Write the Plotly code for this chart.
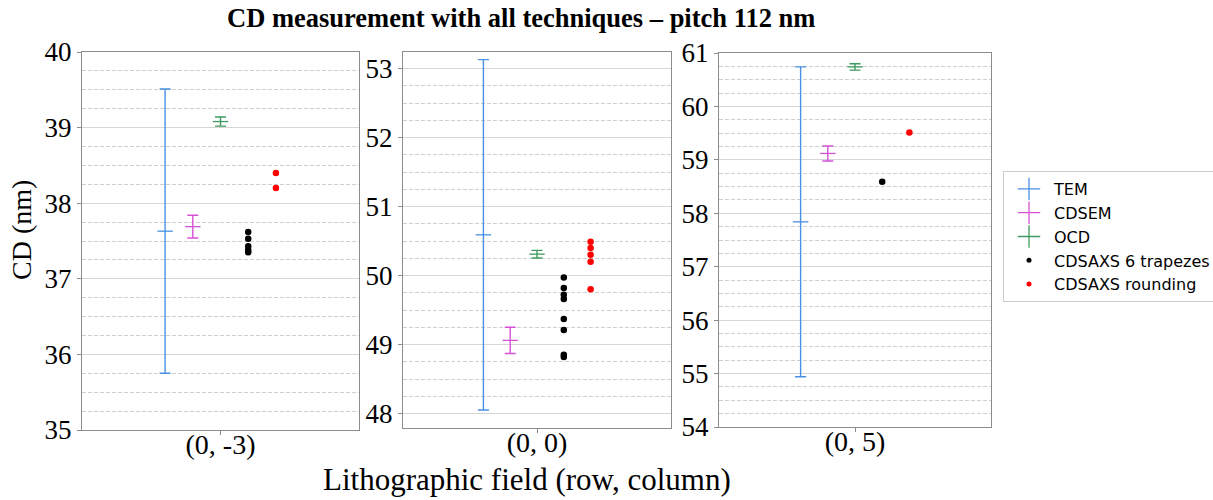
import plotly.graph_objects as go

# ---------------- data ----------------
categories = ["(0, -3)", "(0, 0)", "(0, 5)"]

tem_cd = [37.63, 50.59, 57.84]
tem_err = [1.88, 2.54, 2.90]

cdsem_cd = [37.69, 49.06, 59.12]
cdsem_err = [0.15, 0.19, 0.14]

ocd_cd = [39.08, 50.31, 60.74]
ocd_err = [0.06, 0.055, 0.06]

saxs_trap = [
    [37.62, 37.53, 37.43, 37.38, 37.35],
    [49.97, 49.82, 49.72, 49.66, 49.37, 49.21, 48.85, 48.82],
    [58.59],
]
saxs_round = [
    [38.40, 38.20],
    [50.49, 50.40, 50.30, 50.20, 49.80],
    [59.51],
]

y_ranges = [[35, 40], [47.79, 53.24], [54, 61]]

# ---------------- styling / layout ----------------
W, H = 1213, 500
COL_TEM = "#4a90e2"
COL_SEM = "#d552d5"
COL_OCD = "#3f9c5f"
offsets = [-0.4, -0.2, 0.0, 0.2, 0.4]

# panel pixel boxes (left, right, top, bottom)
boxes = [(82, 359, 52, 430), (403, 671, 52, 428), (719, 991, 53, 427)]

SERIF = "Liberation Serif, Times New Roman, serif"
SANS = "DejaVu Sans, sans-serif"

fig = go.Figure()


def ax_names(i):
    return ("x" if i == 0 else f"x{i+1}", "y" if i == 0 else f"y{i+1}")


for i, cat in enumerate(categories):
    xa, ya = ax_names(i)
    for k, (vals, errs, col) in enumerate([
        (tem_cd, tem_err, COL_TEM),
        (cdsem_cd, cdsem_err, COL_SEM),
        (ocd_cd, ocd_err, COL_OCD),
    ]):
        fig.add_trace(go.Scatter(
            x=[offsets[k]], y=[vals[i]], xaxis=xa, yaxis=ya,
            mode="markers",
            marker=dict(symbol="line-ew-open", size=11, color=col,
                        line=dict(color=col, width=1.3)),
            error_y=dict(type="data", array=[errs[i]], color=col,
                         thickness=1.4, width=5.5),
            showlegend=False, hoverinfo="y",
        ))
    fig.add_trace(go.Scatter(
        x=[offsets[3]] * len(saxs_trap[i]), y=saxs_trap[i], xaxis=xa, yaxis=ya,
        mode="markers", marker=dict(color="black", size=6.5),
        showlegend=False,
    ))
    fig.add_trace(go.Scatter(
        x=[offsets[4]] * len(saxs_round[i]), y=saxs_round[i], xaxis=xa, yaxis=ya,
        mode="markers", marker=dict(color="red", size=6.5),
        showlegend=False,
    ))

# legend-only entries
legend_items = [
    ("TEM", COL_TEM, "cross-thin-open", 18),
    ("CDSEM", COL_SEM, "cross-thin-open", 18),
    ("OCD", COL_OCD, "cross-thin-open", 18),
    ("CDSAXS 6 trapezes", "black", "circle", 5),
    ("CDSAXS rounding", "red", "circle", 5),
]
for name, col, sym, sz in legend_items:
    mk = dict(symbol=sym, color=col, size=sz)
    if sym != "circle":
        mk["line"] = dict(color=col, width=1.3)
    fig.add_trace(go.Scatter(x=[None], y=[None], mode="markers", name=name,
                             marker=mk, showlegend=True))

layout = dict(
    width=W, height=H, autosize=False,
    margin=dict(l=0, r=0, t=0, b=0, pad=0, autoexpand=False),
    paper_bgcolor="white", plot_bgcolor="white",
    showlegend=True,
    legend=dict(x=1003 / W, y=1 - 171 / H, xanchor="left", yanchor="top",
                bgcolor="white", bordercolor="#cccccc", borderwidth=1,
                font=dict(family=SANS, size=16, color="black"),
                itemsizing="trace", itemwidth=40, tracegroupgap=0),
)

for i, cat in enumerate(categories):
    l, r, t, b = boxes[i]
    xk = "xaxis" if i == 0 else f"xaxis{i+1}"
    yk = "yaxis" if i == 0 else f"yaxis{i+1}"
    xa, ya = ax_names(i)
    layout[xk] = dict(
        domain=[l / W, r / W], anchor=ya, range=[-1, 1],
        tickvals=[0], ticktext=[cat], showgrid=False, zeroline=False,
        showline=True, linecolor="#8c8c8c", linewidth=1.3, mirror=True,
        ticks="outside", ticklen=4, tickcolor="#8c8c8c",
        tickfont=dict(family=SERIF, size=28, color="black"),
        ticklabelstandoff=-15,
        automargin=False, fixedrange=True,
    )
    layout[yk] = dict(
        domain=[1 - b / H, 1 - t / H], anchor=xa, range=y_ranges[i],
        dtick=1, tick0=0, showgrid=True, gridcolor="#d6d6d6", gridwidth=1,
        zeroline=False,
        showline=True, linecolor="#8c8c8c", linewidth=1.3, mirror=True,
        ticks="outside", ticklen=4, tickcolor="#8c8c8c",
        tickfont=dict(family=SERIF, size=27, color="black"),
        minor=dict(dtick=0.25, showgrid=True, gridcolor="#cfcfcf",
                   griddash="4px,2px", gridwidth=1, ticks=""),
        automargin=False, fixedrange=True,
    )

fig.update_layout(**layout)

fig.add_annotation(text="<b>CD measurement with all techniques – pitch 112 nm</b>",
                   x=521 / W, y=1 - 18 / H, xref="paper", yref="paper",
                   showarrow=False, xanchor="center", yanchor="middle",
                   font=dict(family=SERIF, size=26.5, color="black"))
fig.add_annotation(text="CD (nm)", textangle=-90,
                   x=22 / W, y=1 - 230 / H, xref="paper", yref="paper",
                   showarrow=False, xanchor="center", yanchor="middle",
                   font=dict(family=SERIF, size=28, color="black"))
fig.add_annotation(text="Lithographic field (row, column)",
                   x=527 / W, y=1 - 479 / H, xref="paper", yref="paper",
                   showarrow=False, xanchor="center", yanchor="middle",
                   font=dict(family=SERIF, size=31, color="black"))

fig.write_html("out.html", config={"displayModeBar": False},
               post_script="document.body.style.margin='0';")
